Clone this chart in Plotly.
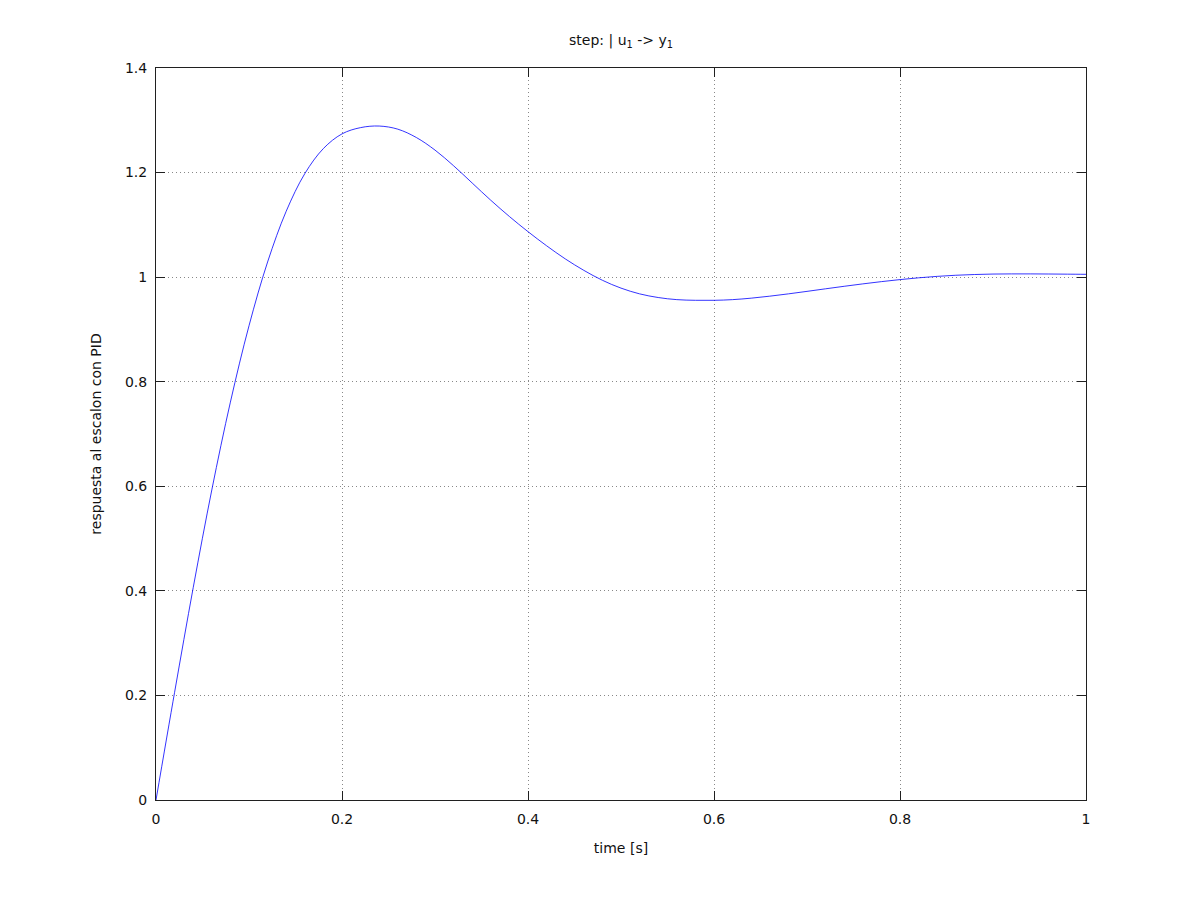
import plotly.graph_objects as go

# step response, every 0.02 s
t = [round(0.02 * i, 2) for i in range(51)]
y = [0.000, 0.206, 0.406, 0.593, 0.761, 0.907, 1.029, 1.126, 1.198, 1.246,
     1.274, 1.286, 1.289, 1.283, 1.267, 1.243, 1.213, 1.180, 1.147, 1.116,
     1.087, 1.060, 1.035, 1.013, 0.994, 0.979, 0.968, 0.961, 0.957, 0.9557,
     0.9557, 0.957, 0.9598, 0.9636, 0.968, 0.9728, 0.9777, 0.9825, 0.9871, 0.9914,
     0.9953, 0.9987, 1.0015, 1.0036, 1.005, 1.0059, 1.0062, 1.0062, 1.006, 1.0057,
     1.0054]

x_ticks = [0, 0.2, 0.4, 0.6, 0.8, 1]
y_ticks = [0, 0.2, 0.4, 0.6, 0.8, 1, 1.2, 1.4]

fig = go.Figure()
fig.add_trace(go.Scatter(x=t, y=y, mode="lines", line=dict(color="#0000ff", width=0.8, shape="spline", smoothing=1.0),
                         showlegend=False, hoverinfo="x+y"))

axis_style = dict(showline=True, linecolor="#202020", linewidth=1, mirror="allticks",
                  ticks="inside", ticklen=9, tickcolor="#202020",
                  showgrid=True, gridcolor="#888888", griddash="1px,3px", gridwidth=1,
                  zeroline=False, tickfont=dict(size=14, color="#111111"))

fig.update_layout(
    width=1200, height=900,
    paper_bgcolor="white", plot_bgcolor="white",
    font=dict(family="DejaVu Sans", size=13, color="#111111"),
    margin=dict(l=148, r=122, t=60, b=108),
    title=dict(text="step: | u<sub>1</sub> -> y<sub>1</sub>", x=0.5, xref="paper",
               y=1 - 32 / 900, yref="container", yanchor="middle", font=dict(size=14)),
    xaxis=dict(range=[0, 1], tickvals=x_ticks, ticktext=[str(v) for v in x_ticks], ticklabelstandoff=6,
               title=dict(text="time [s]", standoff=17, font=dict(size=14)), **axis_style),
    yaxis=dict(range=[0, 1.4], tickvals=y_ticks, ticktext=[str(v) for v in y_ticks], ticklabelstandoff=5,
               title=dict(text="respuesta al escalon con PID", standoff=20, font=dict(size=14)), **axis_style),
)

fig.write_html("out.html")
